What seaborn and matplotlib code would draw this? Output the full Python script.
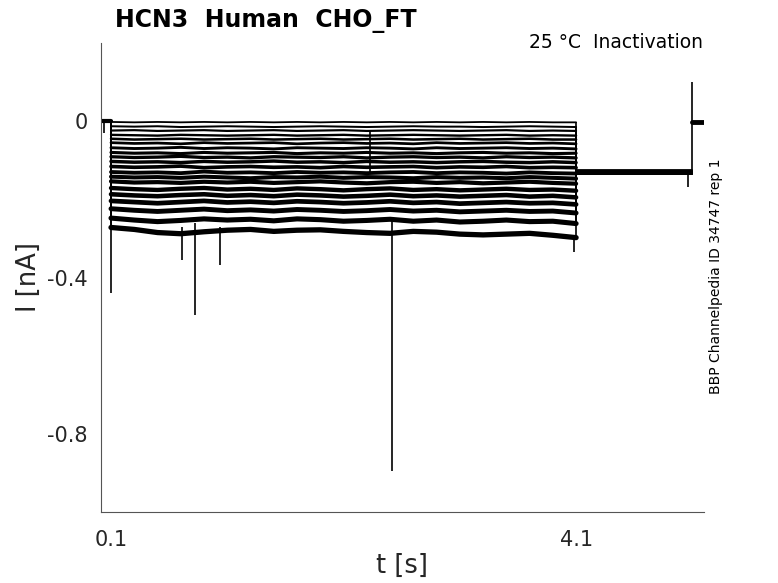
import numpy as np
import pandas as pd
import matplotlib
matplotlib.use("Agg")
import matplotlib.pyplot as plt
import seaborn as sns

# ---------------- data ----------------
title_text = "HCN3  Human  CHO_FT"
cond_text = "25 °C  Inactivation"
side_text = "BBP Channelpedia ID 34747 rep 1"
x_ticks = [0.1, 4.1]
x_tick_labels = ["0.1", "4.1"]
y_ticks = [-0.8, -0.4, 0.0]
y_tick_labels = ["-0.8", "-0.4", "0"]

pre_t = [0.014, 0.1]
pre_i = [0.0, 0.0]

pulse_t = [0.1, 0.3, 0.5, 0.7, 0.9, 1.1, 1.3, 1.5, 1.7, 1.9, 2.1,
           2.3, 2.5, 2.7, 2.9, 3.1, 3.3, 3.5, 3.7, 3.9, 4.1]

s01 = [-0.002, -0.003, -0.002, -0.003, -0.002, -0.003, -0.002, -0.003, -0.002, -0.003, -0.002,
       -0.003, -0.002, -0.003, -0.002, -0.003, -0.002, -0.003, -0.002, -0.003, -0.003]
s02 = [-0.013, -0.014, -0.013, -0.015, -0.014, -0.013, -0.014, -0.015, -0.014, -0.013, -0.014,
       -0.015, -0.014, -0.013, -0.014, -0.014, -0.015, -0.014, -0.013, -0.014, -0.015]
s03 = [-0.024, -0.023, -0.025, -0.024, -0.023, -0.025, -0.024, -0.023, -0.025, -0.024, -0.023,
       -0.025, -0.024, -0.023, -0.024, -0.025, -0.024, -0.023, -0.025, -0.024, -0.025]
s04 = [-0.035, -0.036, -0.037, -0.035, -0.036, -0.037, -0.036, -0.035, -0.037, -0.036, -0.035,
       -0.037, -0.036, -0.035, -0.036, -0.037, -0.036, -0.035, -0.037, -0.036, -0.037]
s05 = [-0.045, -0.047, -0.046, -0.045, -0.047, -0.046, -0.045, -0.047, -0.046, -0.045, -0.047,
       -0.046, -0.045, -0.047, -0.046, -0.045, -0.047, -0.046, -0.045, -0.047, -0.047]
s06 = [-0.055, -0.057, -0.056, -0.058, -0.055, -0.057, -0.056, -0.055, -0.058, -0.056, -0.055,
       -0.057, -0.056, -0.058, -0.055, -0.057, -0.056, -0.055, -0.057, -0.056, -0.058]
s07 = [-0.068, -0.070, -0.069, -0.067, -0.070, -0.068, -0.069, -0.071, -0.068, -0.069, -0.070,
       -0.068, -0.069, -0.071, -0.068, -0.070, -0.069, -0.068, -0.070, -0.069, -0.071]
s08 = [-0.080, -0.082, -0.081, -0.083, -0.080, -0.082, -0.081, -0.080, -0.083, -0.081, -0.082,
       -0.080, -0.082, -0.081, -0.083, -0.081, -0.080, -0.082, -0.081, -0.083, -0.082]
s09 = [-0.091, -0.093, -0.092, -0.090, -0.093, -0.092, -0.094, -0.091, -0.092, -0.093, -0.091,
       -0.094, -0.092, -0.091, -0.093, -0.092, -0.094, -0.091, -0.093, -0.092, -0.094]
s10 = [-0.103, -0.105, -0.104, -0.106, -0.103, -0.105, -0.104, -0.102, -0.105, -0.104, -0.106,
       -0.103, -0.105, -0.104, -0.106, -0.104, -0.103, -0.105, -0.106, -0.104, -0.106]
s11 = [-0.116, -0.118, -0.117, -0.115, -0.119, -0.117, -0.116, -0.118, -0.117, -0.119, -0.116,
       -0.118, -0.117, -0.116, -0.119, -0.117, -0.118, -0.116, -0.119, -0.118, -0.119]
s12 = [-0.130, -0.132, -0.131, -0.133, -0.129, -0.132, -0.131, -0.133, -0.130, -0.132, -0.131,
       -0.133, -0.131, -0.130, -0.133, -0.131, -0.132, -0.134, -0.131, -0.133, -0.134]
s13 = [-0.142, -0.144, -0.143, -0.145, -0.142, -0.144, -0.146, -0.143, -0.144, -0.142, -0.145,
       -0.143, -0.144, -0.146, -0.143, -0.145, -0.144, -0.146, -0.143, -0.145, -0.147]
s14 = [-0.154, -0.157, -0.156, -0.158, -0.155, -0.157, -0.155, -0.158, -0.156, -0.154, -0.157,
       -0.159, -0.156, -0.155, -0.158, -0.156, -0.159, -0.157, -0.155, -0.158, -0.160]
s15 = [-0.171, -0.174, -0.176, -0.173, -0.171, -0.175, -0.173, -0.176, -0.172, -0.174, -0.177,
       -0.174, -0.172, -0.176, -0.174, -0.177, -0.175, -0.173, -0.176, -0.175, -0.178]
s16 = [-0.187, -0.190, -0.192, -0.189, -0.187, -0.191, -0.189, -0.192, -0.188, -0.190, -0.193,
       -0.191, -0.188, -0.192, -0.190, -0.193, -0.191, -0.189, -0.193, -0.191, -0.195]
s17 = [-0.204, -0.207, -0.210, -0.207, -0.204, -0.208, -0.206, -0.209, -0.205, -0.207, -0.210,
       -0.208, -0.205, -0.209, -0.207, -0.211, -0.209, -0.207, -0.210, -0.209, -0.213]
s18 = [-0.224, -0.228, -0.231, -0.228, -0.225, -0.229, -0.227, -0.230, -0.226, -0.228, -0.231,
       -0.229, -0.226, -0.230, -0.228, -0.232, -0.230, -0.228, -0.231, -0.230, -0.235]
s19 = [-0.248, -0.253, -0.257, -0.254, -0.250, -0.253, -0.251, -0.255, -0.250, -0.252, -0.256,
       -0.254, -0.251, -0.256, -0.253, -0.258, -0.256, -0.253, -0.257, -0.256, -0.262]
s20 = [-0.272, -0.277, -0.285, -0.288, -0.283, -0.279, -0.277, -0.282, -0.279, -0.278, -0.282,
       -0.285, -0.287, -0.282, -0.284, -0.289, -0.291, -0.289, -0.287, -0.292, -0.298]
sweeps = [s01, s02, s03, s04, s05, s06, s07, s08, s09, s10,
          s11, s12, s13, s14, s15, s16, s17, s18, s19, s20]

# after the test pulse every sweep steps to the same tail potential
post_t = [4.1, 5.1]
post_level = [-0.126, -0.128, -0.130, -0.127, -0.131, -0.129, -0.133, -0.128, -0.132, -0.130,
              -0.134, -0.129, -0.131, -0.135, -0.130, -0.133, -0.132, -0.136, -0.131, -0.134]
end_t = [5.1, 5.2]
end_i = [-0.003, -0.003]

# artifacts / transients (time, from, to)
spike_t = [0.04, 0.1, 0.71, 0.823, 1.038, 2.33, 2.517, 4.08, 5.06, 5.1]
spike_from = [0.0, 0.0, -0.27, -0.26, -0.27, -0.131, -0.25, -0.29, -0.13, -0.13]
spike_to = [-0.03, -0.44, -0.354, -0.497, -0.367, -0.025, -0.894, -0.336, -0.168, 0.099]

# ---------------- build tables ----------------
rows = []
for k, vals in enumerate(sweeps, start=1):
    for t, v in zip(pulse_t, vals):
        rows.append((k, t, v))
pulse_df = pd.DataFrame(rows, columns=["sweep", "t", "I"])

prow = []
for k, lvl in enumerate(post_level, start=1):
    for t in post_t:
        prow.append((k, t, lvl))
post_df = pd.DataFrame(prow, columns=["sweep", "t", "I"])

on_from = [pre_i[-1]] * len(sweeps)
on_to = [s[0] for s in sweeps]
off_from = [s[-1] for s in sweeps]

# ---------------- plot ----------------
sns.set_theme(style="white")
plt.rcParams["font.family"] = ["DejaVu Sans"]

fig = plt.figure(figsize=(7.78, 5.83), dpi=100)
ax = fig.add_axes([101 / 778, 1 - 512 / 583, (704 - 101) / 778, (512 - 43) / 583])

sns.lineplot(x=pre_t, y=pre_i, color="black", lw=3.0, ax=ax)
sns.lineplot(data=post_df, x="t", y="I", units="sweep", estimator=None, sort=False,
             color="black", lw=1.3, ax=ax)
sns.lineplot(x=end_t, y=end_i, color="black", lw=3.5, ax=ax)
sns.lineplot(data=pulse_df, x="t", y="I", size="sweep", sizes=(1.3, 3.8),
             estimator=None, sort=False, color="black", legend=False, ax=ax)
# voltage-step transitions
ax.vlines([pulse_t[0]] * len(sweeps), on_from, on_to, color="black", lw=1.2)
ax.vlines([pulse_t[-1]] * len(sweeps), off_from, post_level, color="black", lw=1.2)
ax.vlines(spike_t, spike_from, spike_to, color="black", lw=1.2)

ax.set_xlim(0.014, 5.2)
ax.set_ylim(-1.0, 0.2)
ax.set_xticks(x_ticks, x_tick_labels)
ax.set_yticks(y_ticks, y_tick_labels)
ax.tick_params(direction="in", length=4, width=0.8, labelsize=15, colors="#262626")
ax.tick_params(axis="x", pad=13)
ax.tick_params(axis="y", pad=9.5)
for s in ["top", "right"]:
    ax.spines[s].set_visible(False)
for s in ["left", "bottom"]:
    ax.spines[s].set_color("#555555")
    ax.spines[s].set_linewidth(0.8)
ax.set_xlabel("t [s]", fontsize=18.5, color="#262626", labelpad=2)
ax.set_ylabel("I [nA]", fontsize=18.5, color="#262626", labelpad=4)

fig.text(115 / 778, 1 - 27 / 583, title_text, fontsize=17, fontweight="bold",
         ha="left", va="baseline", color="black")
fig.text(703 / 778, 1 - 48 / 583, cond_text, fontsize=13.5, ha="right",
         va="baseline", color="black")
fig.text(716 / 778, 1 - 276 / 583, side_text, fontsize=10, rotation=90,
         ha="center", va="center", color="black")

fig.savefig("out.png", dpi=100)
